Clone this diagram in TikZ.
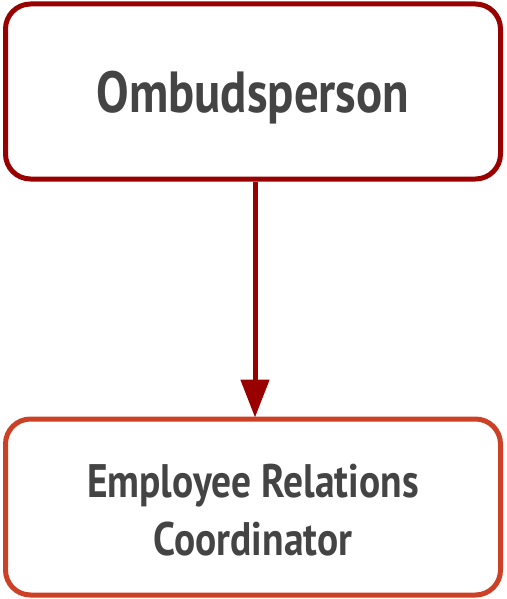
\documentclass[tikz,border=0pt]{standalone}
\usepackage{fontspec}
\setmainfont{PT Sans}[FakeStretch=0.84]
\usetikzlibrary{arrows.meta}
\definecolor{topred}{HTML}{990000}
\definecolor{botred}{HTML}{CC4125}
\definecolor{txt}{HTML}{444444}
\tikzset{
  box/.style={draw, line width=5pt, rounded corners=25pt, fill=white, inner sep=0pt},
  lbl/.style={text=txt, font=\bfseries, align=center, inner sep=0pt},
  link/.style={draw=topred, line width=5pt, -{Triangle[length=38pt,width=28pt]}, shorten >=-1pt}
}
\begin{document}
\begin{tikzpicture}[x=1pt,y=1pt]
\useasboundingbox (0,0) rectangle (506,-599);
\node[box, draw=topred, minimum width=495pt, minimum height=175pt] (a) at (253,-91.5) {};
\node[lbl, font=\bfseries\fontsize{58}{66}\selectfont, anchor=base] (at) at (253,-113) {Ombudsperson};
\node[box, draw=botred, minimum width=495pt, minimum height=176pt] (b) at (253,-507) {};
\node[lbl, font=\bfseries\fontsize{47}{58}\selectfont, anchor=base] (bt1) at (253,-497) {Employee Relations};
\node[lbl, font=\bfseries\fontsize{47}{58}\selectfont, anchor=base] (bt2) at (253,-555) {Coordinator};
\draw[link] (a.south -| 255,0) -- (b.north -| 255,0);
\end{tikzpicture}
\end{document}
